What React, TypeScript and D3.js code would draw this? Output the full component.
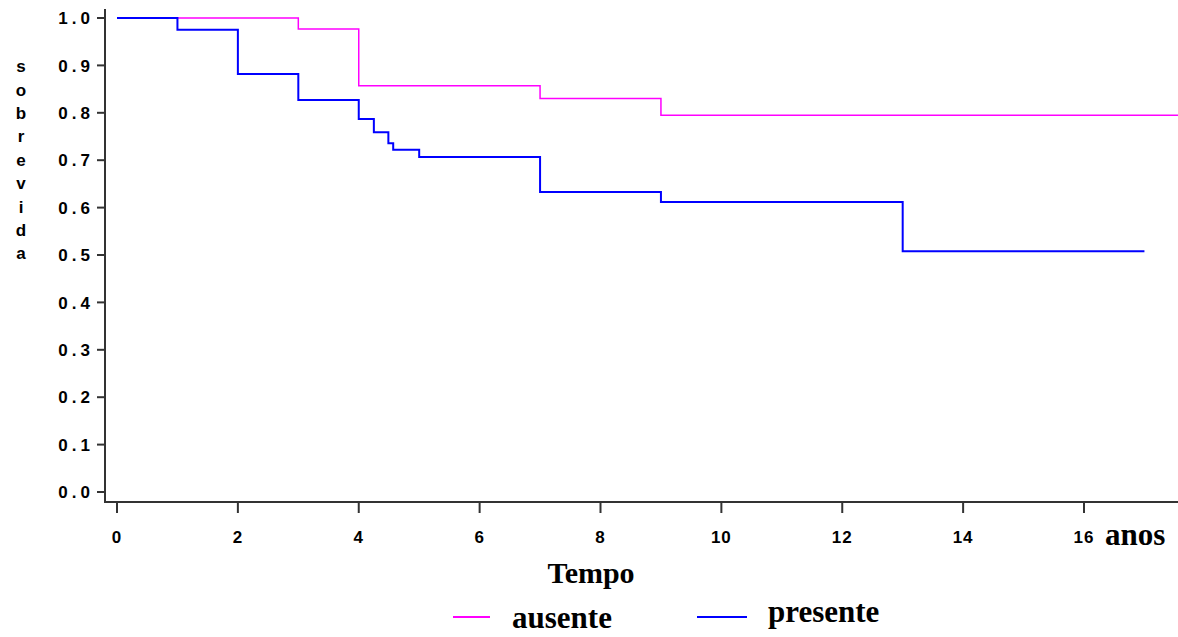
import React from 'react';
import * as d3 from 'd3';

// Kaplan-Meier steps: [time, survival after time]
const ausente: [number, number][] = [
  [0, 1.0], [3, 0.977], [4, 0.857], [7, 0.83], [9, 0.795], [17.6, 0.795],
];
const presente: [number, number][] = [
  [0, 1.0], [1, 0.975], [2, 0.882], [3, 0.827], [4, 0.787], [4.25, 0.759],
  [4.49, 0.736], [4.57, 0.722], [5, 0.707], [7, 0.633], [9, 0.612],
  [13, 0.508], [17, 0.508],
];
const xTicks = [0, 2, 4, 6, 8, 10, 12, 14, 16];
const yTicks = [0, 0.1, 0.2, 0.3, 0.4, 0.5, 0.6, 0.7, 0.8, 0.9, 1.0];
const yLabel = 'sobrevida'.split('');

export default function App() {
  const width = 1178, height = 637;
  const x = d3.scaleLinear().domain([0, 16]).range([117, 1084]);
  const y = d3.scaleLinear().domain([0, 1]).range([492, 18]);

  const step = d3.line<[number, number]>()
    .x(d => x(d[0]))
    .y(d => y(d[1]))
    .curve(d3.curveStepAfter);

  const tickFont = { fontFamily: 'Arial, "Liberation Sans", sans-serif', fontWeight: 'bold' as const, fontSize: 17 };
  const serif = { fontFamily: '"Liberation Serif", "Times New Roman", serif', fontWeight: 'bold' as const, fontSize: 31 };

  return (
    <div style={{ position: 'absolute', left: 0, top: 0 }}>
      <svg width={width} height={height} style={{ display: 'block', background: '#fff' }}>
        {/* axes */}
        <line x1={105} y1={9} x2={105} y2={503} stroke="#333" strokeWidth={2} />
        <line x1={104} y1={502} x2={1178} y2={502} stroke="#333" strokeWidth={2} />

        {yTicks.map(t => (
          <g key={'y' + t}>
            <line x1={97} x2={105} y1={y(t)} y2={y(t)} stroke="#333" strokeWidth={2} />
            <text x={94} y={y(t)} dy="0.36em" textAnchor="end" letterSpacing={4} style={tickFont}>
              {t.toFixed(1)}
            </text>
          </g>
        ))}

        {xTicks.map(t => (
          <g key={'x' + t}>
            <line x1={x(t)} x2={x(t)} y1={502} y2={513} stroke="#333" strokeWidth={2} />
            <text x={x(t)} y={543} textAnchor="middle" letterSpacing={1} style={tickFont}>
              {t}
            </text>
          </g>
        ))}

        {yLabel.map((c, i) => (
          <text key={'l' + i} x={21} y={66 + i * 23.4} dy="0.36em" textAnchor="middle"
            style={{ fontFamily: 'Arial, "Liberation Sans", sans-serif', fontWeight: 'bold', fontSize: 17 }}>
            {c}
          </text>
        ))}

        {/* survival curves */}
        <path d={step(ausente) || ''} fill="none" stroke="#ff00ff" strokeWidth={1.5} />
        <path d={step(presente) || ''} fill="none" stroke="#0000ff" strokeWidth={2} />

        <text x={1105} y={545} style={serif}>anos</text>
        <text x={591} y={583} textAnchor="middle" style={{ ...serif, fontSize: 30 }}>Tempo</text>

        {/* legend */}
        <line x1={453} x2={490} y1={617} y2={617} stroke="#ff00ff" strokeWidth={2} />
        <text x={512} y={628} style={serif}>ausente</text>
        <line x1={697} x2={747} y1={617} y2={617} stroke="#0000ff" strokeWidth={2} />
        <text x={768} y={622} style={serif}>presente</text>
      </svg>
    </div>
  );
}
